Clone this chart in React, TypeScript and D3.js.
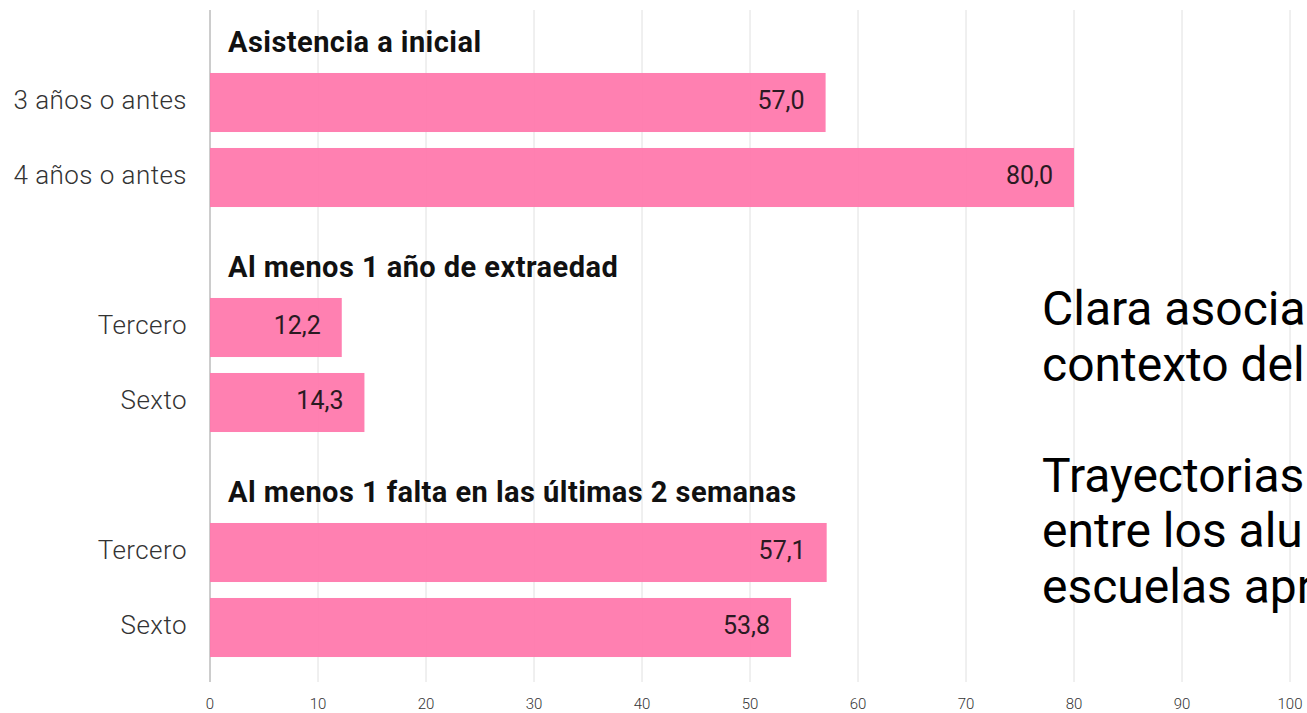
import React from "react";
import * as d3 from "d3";

const groupTitles = [
  "Asistencia a inicial",
  "Al menos 1 año de extraedad",
  "Al menos 1 falta en las últimas 2 semanas",
];
const categories = [
  ["3 años o antes", "4 años o antes"],
  ["Tercero", "Sexto"],
  ["Tercero", "Sexto"],
];
const values = [
  [57.0, 80.0],
  [12.2, 14.3],
  [57.1, 53.8],
];
const xTicks = [0, 10, 20, 30, 40, 50, 60, 70, 80, 90, 100];
const noteLines = [
  "Clara asocia",
  "contexto del",
  "",
  "Trayectorias",
  "entre los alu",
  "escuelas apr",
];

const W = 1307;
const H = 713;

export default function App() {
  const x = d3.scaleLinear().domain([0, 100]).range([210, 1290]);

  type Row = { id: string; kind: "header" | "bar"; label: string; value?: number };
  const rows: Row[] = [];
  groupTitles.forEach((t, gi) => {
    rows.push({ id: `h${gi}`, kind: "header", label: t });
    categories[gi].forEach((c, ci) => {
      rows.push({ id: `b${gi}-${ci}`, kind: "bar", label: c, value: values[gi][ci] });
    });
  });

  const y = d3
    .scaleBand<string>()
    .domain(rows.map((r) => r.id))
    .range([-10, 665])
    .paddingInner(0.213)
    .paddingOuter(0.1065);

  const fmt = (v: number) => d3.format(".1f")(v).replace(".", ",");

  const font = "Roboto, 'Noto Sans', sans-serif";
  const gridTop = 10;
  const gridBottom = 682;

  return (
    <svg
      width={W}
      height={H}
      style={{ position: "absolute", left: 0, top: 0, background: "#fff" }}
      fontFamily={font}
    >
      <g>
        {xTicks.map((t) => (
          <line
            key={t}
            x1={x(t)}
            x2={x(t)}
            y1={gridTop}
            y2={gridBottom}
            stroke={t === 0 ? "#9a9a9a" : "#e0e0e0"}
            strokeWidth={1}
          />
        ))}
        {xTicks.map((t) => (
          <text
            key={"t" + t}
            x={x(t)}
            y={705}
            textAnchor="middle"
            dominantBaseline="middle"
            fontSize={15}
            fontWeight={300}
            fill="#333"
          >
            {t}
          </text>
        ))}
      </g>
      <g>
        {rows.map((r) => {
          const y0 = y(r.id)!;
          const bw = y.bandwidth();
          const cy = y0 + bw / 2;
          if (r.kind === "header") {
            return (
              <text
                key={r.id}
                x={228}
                y={cy + 16.5}
                dominantBaseline="middle"
                fontSize={29}
                fontWeight={700}
                letterSpacing={0.45}
                fill="#111"
              >
                {r.label}
              </text>
            );
          }
          const v = r.value!;
          return (
            <g key={r.id}>
              <rect
                x={x(0)}
                y={y0}
                width={x(v) - x(0)}
                height={bw}
                fill="#ff78ac"
                fillOpacity={0.94}
              />
              <text
                x={187}
                y={cy}
                textAnchor="end"
                dominantBaseline="middle"
                fontSize={26}
                fontWeight={300}
                letterSpacing={0.45}
                fill="#333"
              >
                {r.label}
              </text>
              <text
                x={x(v) - 21}
                y={cy}
                textAnchor="end"
                dominantBaseline="middle"
                fontSize={25}
                fontWeight={400}
                fill="#2a1a22"
              >
                {fmt(v)}
              </text>
            </g>
          );
        })}
      </g>
      <g>
        {noteLines.map((l, i) =>
          l ? (
            <text key={i} x={1042} y={325 + i * 55.5} fontSize={48} fontWeight={400} fill="#000">
              {l}
            </text>
          ) : null
        )}
      </g>
    </svg>
  );
}
